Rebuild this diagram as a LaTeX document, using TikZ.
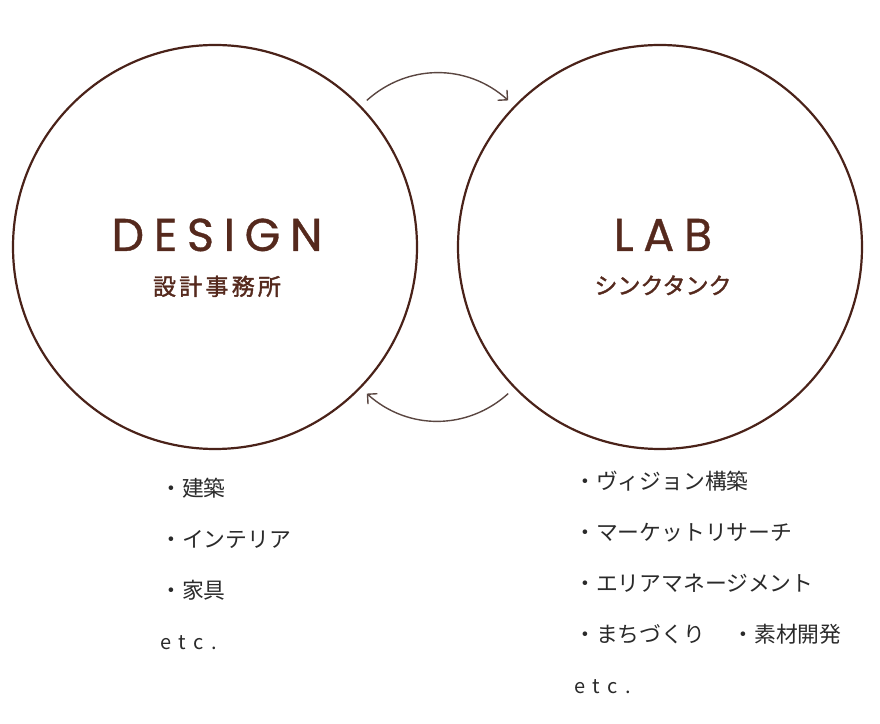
\documentclass[tikz,border=0pt]{standalone}
\usepackage{fontspec}
\setmainfont{Poppins}
\newfontfamily\jpfont{Noto Sans CJK JP}
\usepackage{xcolor}
\usetikzlibrary{positioning,arrows.meta}

\definecolor{ringbrown}{HTML}{4A2219}
\definecolor{titlebrown}{HTML}{55291D}
\definecolor{arrowgrey}{HTML}{5A4641}
\definecolor{itemgrey}{HTML}{2A2A2A}

\begin{document}
\begin{tikzpicture}[
  x=1pt, y=1pt,
  ring/.style={circle, draw=ringbrown, line width=2.2pt, minimum size=404pt, inner sep=0pt, outer sep=9pt},
  title/.style={text=titlebrown, font=\fontsize{46}{46}\selectfont\addfontfeature{LetterSpace=21,FakeBold=0.8}, inner sep=0pt},
  subtitle/.style={text=titlebrown, font=\jpfont\fontsize{23}{23}\selectfont\addfontfeature{FakeBold=1.6}, inner sep=0pt},
  item/.style={text=itemgrey, font=\jpfont\fontsize{21.8}{21.8}\selectfont, inner sep=0pt, text height=16pt, text depth=4pt},
  etcline/.style={item, font=\jpfont\fontsize{20}{20}\selectfont\addfontfeature{LetterSpace=38}},
  flow/.style={-{Straight Barb[length=7pt,width=14pt]}, draw=arrowgrey, line width=1.4pt, bend left=42}
]
  \useasboundingbox (0,0) rectangle (880,723);

  % Circles
  \node[ring] (design) at (215,476) {};
  \node[ring] (lab) at (660,476) {};

  % Titles
  \node[title, anchor=base] (designname) at (217,472) {DESIGN};
  \node[subtitle, below=24pt of designname] (designsub) {\addfontfeature{LetterSpace=14}設計事務所};
  \node[title, anchor=base] (labname) at (663,472) {LAB};
  \node[subtitle, below=24pt of labname] (labsub) {シンクタンク};

  % Arrows
  \draw[flow] (design.44) to (lab.136);
  \draw[flow] (lab.-136) to (design.-44);

  % Lists
  \node[item, anchor=west] (arch) at (160,232) {・建築};
  \node[item, below right=30.5pt and 0pt of arch.south west] (interior) {・インテリア};
  \node[item, below right=30.5pt and 0pt of interior.south west] (furniture) {・家具};
  \node[etcline, below right=30.5pt and 0pt of furniture.south west] (designetc) {etc.};

  \node[item, anchor=west] (vision) at (574,239) {・ヴィジョン構築};
  \node[item, below right=30.5pt and 0pt of vision.south west] (market) {・マーケットリサーチ};
  \node[item, below right=30.5pt and 0pt of market.south west] (area) {・エリアマネージメント};
  \node[item, below right=30.5pt and 0pt of area.south west] (town) {・まちづくり};
  \node[item, right=27pt of town] (material) {・素材開発};
  \node[etcline, below right=30.5pt and 0pt of town.south west] (labetc) {etc.};
\end{tikzpicture}
\end{document}
